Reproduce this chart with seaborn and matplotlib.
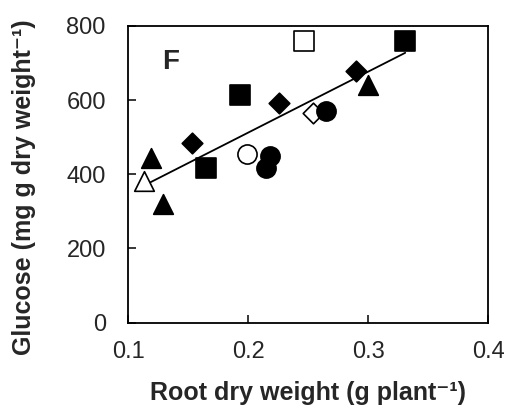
import numpy as np
import pandas as pd
import matplotlib
matplotlib.use("Agg")
import matplotlib.pyplot as plt
import seaborn as sns

sns.set_style("ticks")
plt.rcParams['font.family'] = ['Liberation Sans', 'DejaVu Sans']

# data
root_dw = [0.113, 0.119, 0.129, 0.300,
           0.153, 0.226, 0.290, 0.254,
           0.165, 0.193, 0.331, 0.247,
           0.199, 0.218, 0.215, 0.265]
glucose = [381, 444, 321, 642,
           483, 593, 678, 566,
           417, 615, 759, 759,
           456, 450, 417, 570]
shape = ['^', '^', '^', '^',
         'D', 'D', 'D', 'D',
         's', 's', 's', 's',
         'o', 'o', 'o', 'o']
filled = [False, True, True, True,
          True, True, True, False,
          True, True, True, False,
          False, True, True, True]

xticks = [0.1, 0.2, 0.3, 0.4]
yticks = [0, 200, 400, 600, 800]

df = pd.DataFrame({'x': root_dw, 'y': glucose, 'm': shape, 'f': filled})

fig = plt.figure(figsize=(5.11, 4.12), dpi=100)
ax = fig.add_axes([0.2505, 0.217, 0.7045, 0.72])

# regression line
sns.regplot(data=df, x='x', y='y', ax=ax, scatter=False, ci=None,
            line_kws=dict(color='black', lw=1.3), truncate=True)

sizes = {'^': 200, 'D': 110, 's': 200, 'o': 190}
for (m, f), sub in df.groupby(['m', 'f']):
    sns.scatterplot(data=sub, x='x', y='y', ax=ax, marker=m, s=sizes[m],
                    color='black' if f else 'white', edgecolor='black',
                    linewidth=1.2, zorder=3, legend=False)

ax.set_xlim(0.1, 0.4)
ax.set_ylim(0, 800)
ax.set_xticks(xticks)
ax.set_xticklabels([f"{v:.1f}" for v in xticks])
ax.set_yticks(yticks)
ax.set_yticklabels([str(v) for v in yticks])
ax.tick_params(direction='in', length=6, width=1.3, labelsize=17,
               top=False, right=False)
ax.tick_params(axis='x', pad=13)
ax.tick_params(axis='y', pad=16)
for sp in ax.spines.values():
    sp.set_linewidth(1.3)
    sp.set_color('black')

ax.set_xlabel("Root dry weight (g plant\u207b\u00b9)", fontsize=18,
              fontweight='bold', labelpad=13)
ax.set_ylabel("Glucose (mg g dry weight\u207b\u00b9)", fontsize=18,
              fontweight='bold')
ax.yaxis.set_label_coords(-0.256, 0.457)
ax.text(0.117, 0.88, "F", transform=ax.transAxes, fontsize=20,
        fontweight='bold', ha='center', va='center')

fig.savefig("out.png", dpi=100)
